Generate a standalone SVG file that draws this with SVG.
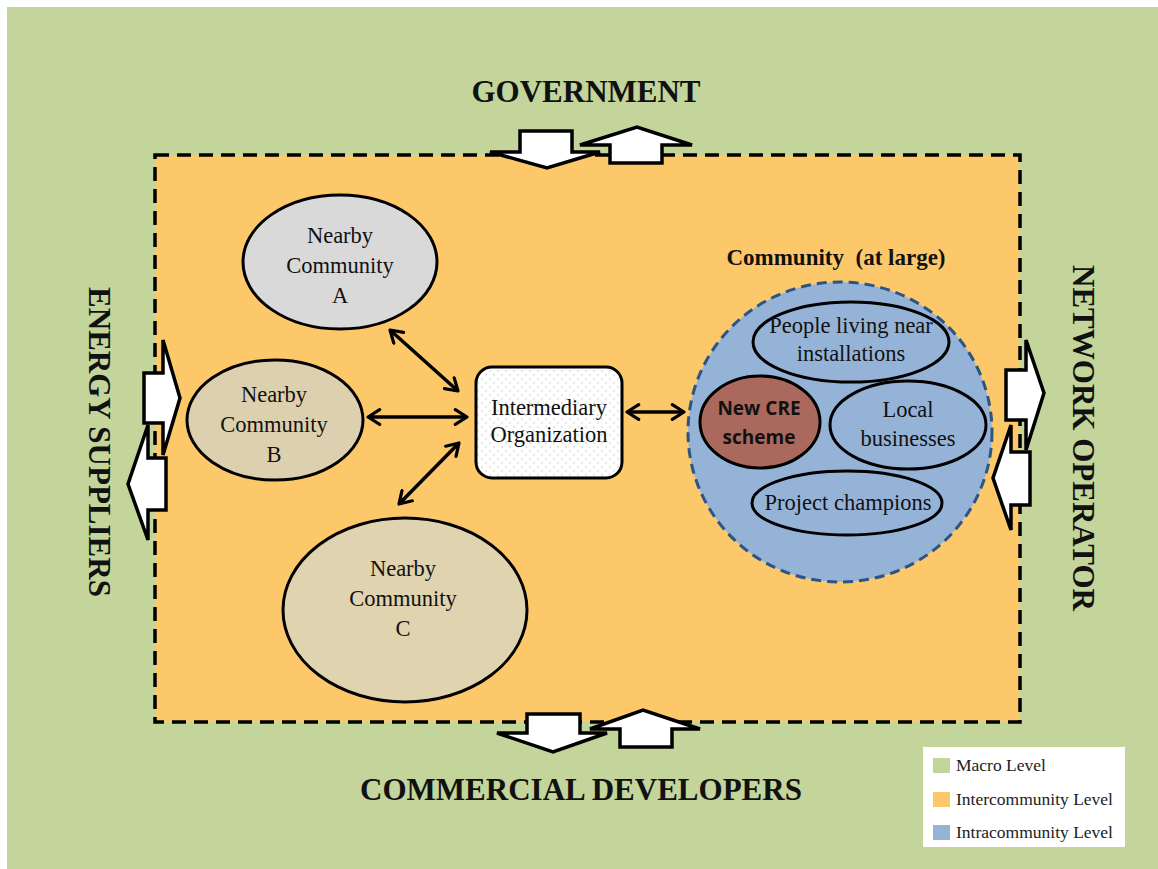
<svg xmlns="http://www.w3.org/2000/svg" width="1158" height="869" viewBox="0 0 1158 869">
<style>
.big{font-family:"Liberation Serif",serif;font-weight:bold;font-size:31px;fill:#111}
.lbl{font-family:"Liberation Serif",serif;font-size:22.5px;fill:#111;text-anchor:middle}
.blk{fill:#fff;stroke:#000;stroke-width:3.5;stroke-linejoin:miter}
.ell{stroke:#000;stroke-width:3}
.conn{stroke:#000;stroke-width:3.5;fill:none}
.leg{font-family:"Liberation Serif",serif;font-size:17.5px;fill:#222}
</style>
<defs>
<marker id="chev" viewBox="0 0 12 12" refX="10" refY="6" markerWidth="5" markerHeight="5" orient="auto-start-reverse" markerUnits="strokeWidth">
<polyline points="2,1 10,6 2,11" fill="none" stroke="#000" stroke-width="2.2" stroke-linecap="round" stroke-linejoin="round"/>
</marker>
<pattern id="dots" width="8" height="8" patternUnits="userSpaceOnUse">
<rect width="8" height="8" fill="#fff"/>
<path d="M1 2 l2 1 l-2 1 M5 6 l2 1 l-2 1" stroke="#ccc" stroke-width="0.6" fill="none"/>
</pattern>
</defs>
<rect x="0" y="0" width="1158" height="869" fill="#fff"/>
<rect id="macro" x="7" y="7" width="1151" height="862" fill="#c3d59b"/>
<rect id="inter" x="155" y="155" width="865" height="567" fill="#fdc86a" stroke="#000" stroke-width="3.5" stroke-dasharray="14,8"/>

<g id="arrows-macro">
<polygon class="blk" points="520,131 572,131 572,152 600,152 547,168 490,152 520,152"/>
<polygon class="blk" points="610,163 662,163 662,145 692,145 637,127 580,145 610,145"/>
<polygon class="blk" points="527,714 580,714 580,733 607,733 553,752 497,733 527,733"/>
<polygon class="blk" points="620,747 672,747 672,729 700,729 643,710 590,729 620,729"/>
<polygon class="blk" points="144,373 163,373 163,340 180,398 163,455 163,423 144,423"/>
<polygon class="blk" points="166,458 148,458 148,425 128,484 148,540 148,510 166,510"/>
<polygon class="blk" points="1006,370 1026,370 1026,340 1044,393 1026,450 1026,420 1006,420"/>
<polygon class="blk" points="1030,452 1011,452 1011,425 993,478 1011,530 1011,505 1030,505"/>
</g>

<text class="big" x="586" y="102" text-anchor="middle">GOVERNMENT</text>
<text class="big" x="581" y="800" text-anchor="middle">COMMERCIAL DEVELOPERS</text>
<text class="big" transform="translate(89,442) rotate(90)" text-anchor="middle">ENERGY SUPPLIERS</text>
<text class="big" transform="translate(1073,438) rotate(90)" text-anchor="middle">NETWORK OPERATOR</text>

<g id="connectors">
<line class="conn" x1="390" y1="330" x2="458" y2="391" marker-start="url(#chev)" marker-end="url(#chev)"/>
<line class="conn" x1="368" y1="417" x2="467" y2="417" marker-start="url(#chev)" marker-end="url(#chev)"/>
<line class="conn" x1="399" y1="504" x2="459" y2="443" marker-start="url(#chev)" marker-end="url(#chev)"/>
<line class="conn" x1="627" y1="412" x2="684" y2="412" marker-start="url(#chev)" marker-end="url(#chev)"/>
</g>

<g id="nodeA">
<ellipse class="ell" cx="340" cy="262" rx="97" ry="67" fill="#d9d9d9"/>
<text class="lbl" x="340" y="243">Nearby</text>
<text class="lbl" x="340" y="273">Community</text>
<text class="lbl" x="340" y="303">A</text>
</g>
<g id="nodeB">
<ellipse class="ell" cx="275" cy="420" rx="88" ry="60" fill="#ddd0ae"/>
<text class="lbl" x="274" y="402">Nearby</text>
<text class="lbl" x="274" y="432">Community</text>
<text class="lbl" x="274" y="462">B</text>
</g>
<g id="nodeC">
<ellipse class="ell" cx="405" cy="610" rx="122" ry="92" fill="#e0d3b0"/>
<text class="lbl" x="403" y="576">Nearby</text>
<text class="lbl" x="403" y="606">Community</text>
<text class="lbl" x="403" y="636">C</text>
</g>
<g id="intermediary">
<rect x="476" y="367" width="146" height="111" rx="16" fill="url(#dots)" stroke="#000" stroke-width="3"/>
<text class="lbl" x="549" y="415">Intermediary</text>
<text class="lbl" x="549" y="442">Organization</text>
</g>

<g id="community">
<text x="836" y="265" font-family="Liberation Serif,serif" font-weight="bold" font-size="23" fill="#111" text-anchor="middle" xml:space="preserve">Community  (at large)</text>
<ellipse cx="840" cy="432" rx="152" ry="150" fill="#95b3d7" stroke="#2a5585" stroke-width="3" stroke-dasharray="10,6"/>
</g>
<g id="people">
<ellipse class="ell" cx="851" cy="342" rx="98" ry="40" fill="#95b3d7"/>
<text class="lbl" x="851" y="333">People living near</text>
<text class="lbl" x="851" y="361">installations</text>
</g>
<g id="cre">
<ellipse class="ell" cx="760" cy="422" rx="60" ry="46" fill="#ab695d"/>
<text x="759" y="415" font-family="Open Sans,Liberation Sans,sans-serif" font-weight="bold" font-size="19" fill="#111" text-anchor="middle">New CRE</text>
<text x="759" y="444" font-family="Open Sans,Liberation Sans,sans-serif" font-weight="bold" font-size="19" fill="#111" text-anchor="middle">scheme</text>
</g>
<g id="local">
<ellipse class="ell" cx="908" cy="425" rx="78" ry="44" fill="#95b3d7"/>
<text class="lbl" x="908" y="417">Local</text>
<text class="lbl" x="908" y="446">businesses</text>
</g>
<g id="champions">
<ellipse class="ell" cx="847" cy="503" rx="95" ry="32" fill="#95b3d7"/>
<text class="lbl" x="848" y="510">Project champions</text>
</g>

<g id="legend">
<rect x="923" y="747" width="202" height="100" fill="#fff"/>
<rect x="933" y="758" width="17" height="15" fill="#c3d59b"/>
<rect x="933" y="792" width="17" height="15" fill="#fdc86a"/>
<rect x="933" y="825" width="17" height="15" fill="#95b3d7"/>
<text class="leg" x="956" y="771">Macro Level</text>
<text class="leg" x="956" y="805">Intercommunity Level</text>
<text class="leg" x="956" y="838">Intracommunity Level</text>
</g>
</svg>
